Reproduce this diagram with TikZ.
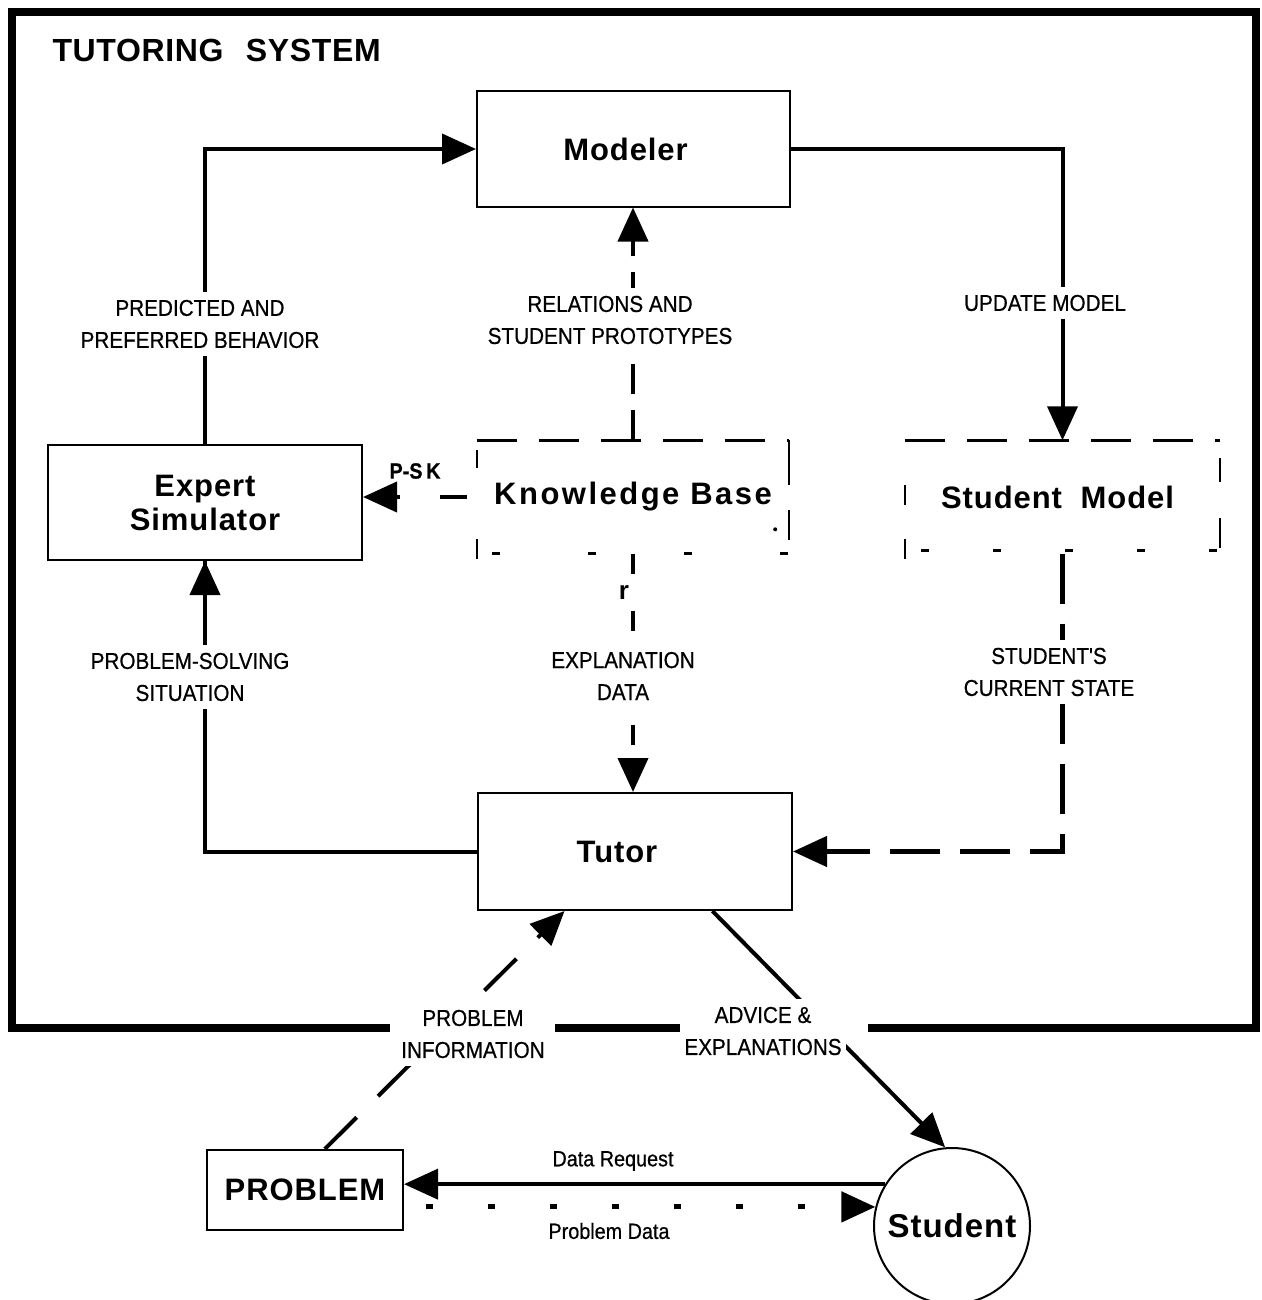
\documentclass[tikz,border=0pt]{standalone}
\usepackage{fontspec}
\setmainfont{Liberation Sans}
\newfontfamily\lblfont[FakeStretch=0.9,FakeBold=0.6]{Liberation Sans}
\newfontfamily\boxfont[LetterSpace=3]{Liberation Sans}
\newfontfamily\kbfont[LetterSpace=8]{Liberation Sans}
\newfontfamily\ttlfont[LetterSpace=2]{Liberation Sans}
\usetikzlibrary{arrows.meta,calc}
\tikzset{
  box/.style={draw,line width=2pt,inner sep=0pt,align=center,
    font=\boxfont\bfseries\fontsize{31}{34}\selectfont},
  dbox/.style={inner sep=0pt,font=\kbfont\bfseries\fontsize{31}{34}\selectfont},
  conn/.style={line width=4pt},
  dconn/.style={line width=4pt,dash pattern=on 30pt off 16pt},
  arr/.style={-{Triangle[length=34pt,width=30pt]}},
  lbl/.style={fill=white,align=center,inner xsep=4pt,inner ysep=8pt,
    font=\lblfont\fontsize{23}{32}\selectfont},
  bedge/.style={line width=3pt},
}
\begin{document}
\begin{tikzpicture}[x=1pt,y=-1pt]
\useasboundingbox (0,0) rectangle (1261,1300);
% frame
\draw[line width=8pt] (390,1028) -- (12,1028) -- (12,12) -- (1256,12) -- (1256,1028) -- (868,1028);
\draw[line width=8pt] (555,1028) -- (680,1028);
\node[anchor=west,font=\ttlfont\bfseries\fontsize{32}{36}\selectfont] (title) at (49,50) {TUTORING\hspace{0.7em}SYSTEM};

% nodes
\node[box,minimum width=313pt,minimum height=115pt] (modeler) at (633.5,149) {\hspace*{-16pt}Modeler};
\node[box,minimum width=314pt,minimum height=115pt] (expert) at (205,502.5) {Expert\\Simulator};
\node[dbox,minimum width=312pt,minimum height=113pt] (kb) at (633,497) {Knowledge\hspace{0.35em}Base};
\node[dbox,minimum width=315pt,minimum height=113pt,font=\boxfont\bfseries\fontsize{31}{34}\selectfont] (sm) at (1062.5,497) {\hspace*{-10pt}Student\hspace{0.6em}Model};
\node[box,minimum width=314pt,minimum height=117pt] (tutor) at (635,851.5) {\hspace*{-36pt}Tutor};
\node[box,minimum width=196pt,minimum height=80pt] (problem) at (305,1190) {PROBLEM};
\node[draw,circle,line width=2pt,minimum size=156pt,inner sep=0pt,
  font=\boxfont\bfseries\fontsize{33}{38}\selectfont] (student) at (952,1226) {Student};

% dashed borders of knowledge base
\draw[bedge,dash pattern=on 40pt off 22pt] (kb.north west) -- (kb.north east);
\draw[line width=2pt] (kb.north east) -- ++(0,45);
\draw[line width=2pt] ($(kb.north east)+(0,70)$) -- ++(0,30);
\fill ($(kb.north east)+(-14,89)$) circle (2pt);
\draw[line width=1.5pt] ($(kb.north west)+(0,10)$) -- ++(0,18);
\draw[line width=1.5pt] ($(kb.south west)+(0,-15)$) -- ++(0,20);
\draw[bedge,dash pattern=on 8pt off 88pt] ($(kb.south west)+(15,0)$) -- ($(kb.south east)+(2,0)$);
% dashed borders of student model
\draw[bedge,dash pattern=on 40pt off 22pt] (sm.north west) -- (sm.north east);
\draw[line width=1.5pt] ($(sm.north west)+(0,45)$) -- ++(0,20);
\draw[line width=1.5pt] ($(sm.south west)+(0,-15)$) -- ++(0,20);
\draw[line width=1.5pt] ($(sm.north east)+(0,18)$) -- ++(0,24);
\draw[line width=1.5pt] ($(sm.north east)+(0,78)$) -- ++(0,30);
\draw[bedge,dash pattern=on 8pt off 64pt] ($(sm.south west)+(16,-3)$) -- ($(sm.south east)+(2,-3)$);

% connectors
\draw[conn,arr] (expert.north) |- (modeler.west);
\draw[conn,arr] (modeler.east) -| (sm.north);
\draw[dconn,arr] (kb.north) -- (kb.north |- modeler.south);
\draw[dconn,arr,dash pattern=on 27pt off 40pt,shorten <=10pt] (kb.west) -- (expert.east |- kb.west);
\draw[dconn,arr,dash pattern=on 20pt off 37pt] (kb.south) -- (kb.south |- tutor.north);
\draw[dconn,arr,line width=4.5pt,dash pattern=on 50pt off 20pt] (sm.south) |- (tutor.east);
\draw[conn] (expert.south) |- (tutor.west);
\draw[conn,arr] (expert.south |- tutor.west) -- (expert.south);
\coordinate (tA) at ($(tutor.south west)!0.745!(tutor.south east)$);
\coordinate (tB) at ($(tutor.south west)!0.277!(tutor.south east)$);
\coordinate (pA) at ($(problem.north west)!0.6!(problem.north east)$);
\draw[conn,arr] (tA) -- (student.95);
\draw[dconn,arr,dash pattern=on 45pt off 30pt] (pA) -- (tB);
\draw[conn,arr] (student.148) -- (problem.east |- student.148);
\draw[arr,line width=5pt,dash pattern=on 7pt off 55pt,shorten <=22pt] (problem.east |- student.166) -- (student.166);

% labels
\node[lbl] (l1) at (200,324) {PREDICTED AND\\PREFERRED BEHAVIOR};
\node[lbl] (l2) at (610,320) {RELATIONS AND\\STUDENT PROTOTYPES};
\node[lbl] (l3) at (1045,303) {UPDATE MODEL};
\node[font=\lblfont\bfseries\fontsize{22}{26}\selectfont] (l4) at (415,471) {P-S\,K};
\node[lbl] (l5) at (190,677) {PROBLEM-SOLVING\\SITUATION};
\node[font=\boxfont\bfseries\fontsize{26}{30}\selectfont] (lr) at (624,592) {r};
\node[lbl] (l6) at (623,676) {EXPLANATION\\DATA};
\node[lbl] (l7) at (1049,672) {STUDENT'S\\CURRENT STATE};
\node[lbl] (l8) at (473,1034) {PROBLEM\\INFORMATION};
\node[lbl] (l9) at (763,1031) {ADVICE \&\\EXPLANATIONS};
\node[font=\lblfont\fontsize{22}{26}\selectfont] (l10) at (613,1161) {Data Request};
\node[font=\lblfont\fontsize{22}{26}\selectfont] (l11) at (609,1231) {Problem Data};
\end{tikzpicture}
\end{document}
